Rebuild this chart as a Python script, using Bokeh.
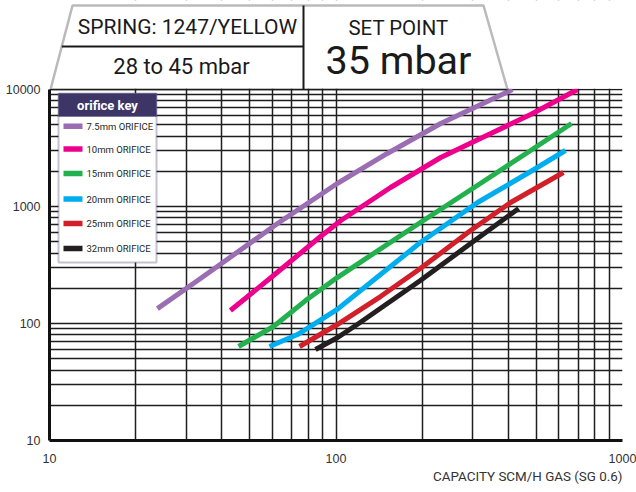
from bokeh.plotting import figure
from bokeh.models import (FixedTicker, Label, PolyAnnotation, BoxAnnotation, Arrow,
                          PrintfTickFormatter, Title)
from bokeh.embed import file_html
from bokeh.resources import INLINE

# ---------------- data (capacity SCM/h vs inlet pressure) ----------------
orifices = ["7.5mm ORIFICE", "10mm ORIFICE", "15mm ORIFICE",
            "20mm ORIFICE", "25mm ORIFICE", "32mm ORIFICE"]
colors = ["#9b6db3", "#ec008c", "#23b14d", "#00aeef", "#d2202a", "#231f20"]

cap_75 = [23.8, 32.9, 62.5, 101, 151, 232, 413]
val_75 = [134, 233, 715, 1573, 2840, 5121, 10000]

cap_10 = [42.8, 60.5, 88.3, 104, 155, 232, 319, 478, 697]
val_10 = [129, 257, 554, 759, 1453, 2623, 3813, 6110, 10000]

cap_15 = [45.7, 60.5, 78.3, 101, 197, 319, 478, 664]
val_15 = [63.6, 94.3, 157, 247, 730, 1573, 3011, 5121]

cap_20 = [58.6, 73.4, 101, 143, 197, 312, 478, 632]
val_20 = [63.6, 80.5, 132, 262, 492, 1082, 1991, 3011]

cap_25 = [74.6, 101, 143, 197, 295, 407, 622]
val_25 = [63.6, 98, 170, 295, 624, 1082, 1953]

cap_32 = [84.8, 101, 120, 197, 295, 434]
val_32 = [59.9, 75.5, 100, 233, 483, 962]

x_major = [10, 100, 1000]
x_minor = [20, 30, 40, 50, 60, 70, 80, 90, 200, 300, 400, 500, 600, 700, 800, 900]
y_major = [10, 100, 1000, 10000]
y_minor = [20, 30, 40, 50, 60, 70, 80, 90, 200, 300, 400, 500, 600, 700, 800, 900,
           2000, 3000, 4000, 5000, 6000, 7000, 8000, 9000]

spring_text = "SPRING: 1247/YELLOW"
range_text = "28 to 45 mbar"
setpoint_title = "SET POINT"
setpoint_text = "35 mbar"
x_title = "CAPACITY SCM/H GAS (SG 0.6)"
legend_title = "orifice key"

# ---------------- layout ----------------
W, H = 636, 492
FL, FR = 49, 622          # frame left / right (px)
Y_TOP_PX, Y_BOT_PX = 89, 440   # pixel rows of 10000 and 10
DEC_X = (FR - FL) / 2
DEC_Y = (Y_BOT_PX - Y_TOP_PX) / 3

# page pixel -> data coordinates (decorations only)
def dx(px):
    return 10 ** (1 + (px - FL) / DEC_X)

def dy(py):
    return 10 ** (4 - (py - Y_TOP_PX) / DEC_Y)

y_top = dy(0)   # frame extends up to the top of the page to hold the header

p = figure(width=W, height=H, x_axis_type="log", y_axis_type="log",
           x_range=(10, 1000), y_range=(10, y_top),
           output_backend="svg", toolbar_location=None,
           min_border_left=FL, min_border_right=W - FR,
           min_border_top=0, min_border_bottom=H - Y_BOT_PX)
p.background_fill_color = "white"
p.border_fill_color = "white"
p.outline_line_color = None

# axes / grid
for ax, maj, mn in ((p.xaxis, x_major, x_minor), (p.yaxis, y_major, y_minor)):
    ax.ticker = FixedTicker(ticks=maj, minor_ticks=mn)
    ax.formatter = PrintfTickFormatter(format="%d")
    ax.axis_line_width = 3
    ax.axis_line_color = "#111111"
    ax.major_tick_line_color = None
    ax.minor_tick_line_color = None
    ax.major_label_text_font = "Liberation Sans"
    ax.major_label_text_font_size = "12.5px"
    ax.major_label_text_color = "#333333"
p.yaxis.bounds = (10, 10000)
p.xaxis.major_label_standoff = 7
p.yaxis.major_label_standoff = 3

for g in (p.xgrid, p.ygrid):
    g.grid_line_color = "#1e1e1e"
    g.grid_line_width = 1.5
    g.minor_grid_line_color = "#1e1e1e"
    g.minor_grid_line_width = 1.5

# curves
series = [(cap_75, val_75), (cap_10, val_10), (cap_15, val_15),
          (cap_20, val_20), (cap_25, val_25), (cap_32, val_32)]
for (xs, ys), c in zip(series, colors):
    p.line(xs, ys, line_color=c, line_width=5, line_cap="butt", line_join="round")

# x axis title (right aligned)
p.add_layout(Title(text=x_title, align="right", text_font="Roboto",
                   text_font_size="13.4px", text_font_style="normal",
                   text_color="#333333", standoff=2), "below")

# white area above the chart (hides grid lines above 10000)
p.add_layout(BoxAnnotation(left=10, right=1000, bottom=dy(88.3), top=y_top,
                           fill_color="white", fill_alpha=1.0, line_color=None))

# ---------------- header trapezoid ----------------
p.add_layout(PolyAnnotation(xs=[dx(72), dx(483), dx(507), dx(50)],
                            ys=[dy(5), dy(5), dy(89), dy(89)],
                            fill_color="white", fill_alpha=0.0,
                            line_color="#1a1a1a", line_width=2.5))
p.add_layout(Arrow(end=None, x_start=dx(303), y_start=dy(5), x_end=dx(303), y_end=dy(89),
                   line_color="#1a1a1a", line_width=2))
p.add_layout(Arrow(end=None, x_start=dx(61.3), y_start=dy(46), x_end=dx(303), y_end=dy(46),
                   line_color="#1a1a1a", line_width=2))

hdr = dict(text_align="center", text_baseline="middle", text_font="Roboto",
           text_color="#1a1a1a")
p.add_layout(Label(x=dx(187), y=dy(26), text=spring_text, text_font_size="21px", **hdr))
p.add_layout(Label(x=dx(181), y=dy(66), text=range_text, text_font_size="22px", **hdr))
p.add_layout(Label(x=dx(398), y=dy(27), text=setpoint_title, text_font_size="20.4px", **hdr))
p.add_layout(Label(x=dx(398), y=dy(60), text=setpoint_text, text_font_size="39.5px", **hdr))

# ---------------- legend (orifice key) ----------------
navy = "#3c3566"
p.add_layout(BoxAnnotation(left=dx(58), right=dx(156), top=dy(93), bottom=dy(262),
                           fill_color="white", fill_alpha=1.0,
                           line_color=navy, line_width=2))
p.add_layout(BoxAnnotation(left=dx(58), right=dx(156), top=dy(93), bottom=dy(116),
                           fill_color=navy, fill_alpha=1.0,
                           line_color=navy, line_width=1))
p.add_layout(Label(x=dx(107), y=dy(104.5), text=legend_title, text_align="center",
                   text_baseline="middle", text_font="Roboto", text_font_style="bold",
                   text_font_size="13px", text_color="white"))
rows = [125.7, 148.5, 173, 198.5, 223, 248]
for name, c, yc in zip(orifices, colors, rows):
    p.add_layout(BoxAnnotation(left=dx(63), right=dx(82), top=dy(yc - 2.7), bottom=dy(yc + 2.7),
                               fill_color=c, fill_alpha=1.0, line_color=None))
    p.add_layout(Label(x=dx(86), y=dy(yc), text=name, text_align="left",
                       text_baseline="middle", text_font="Roboto",
                       text_font_size="9.5px", text_color="#231f20"))

open("out.html", "w").write(file_html(p, INLINE))
